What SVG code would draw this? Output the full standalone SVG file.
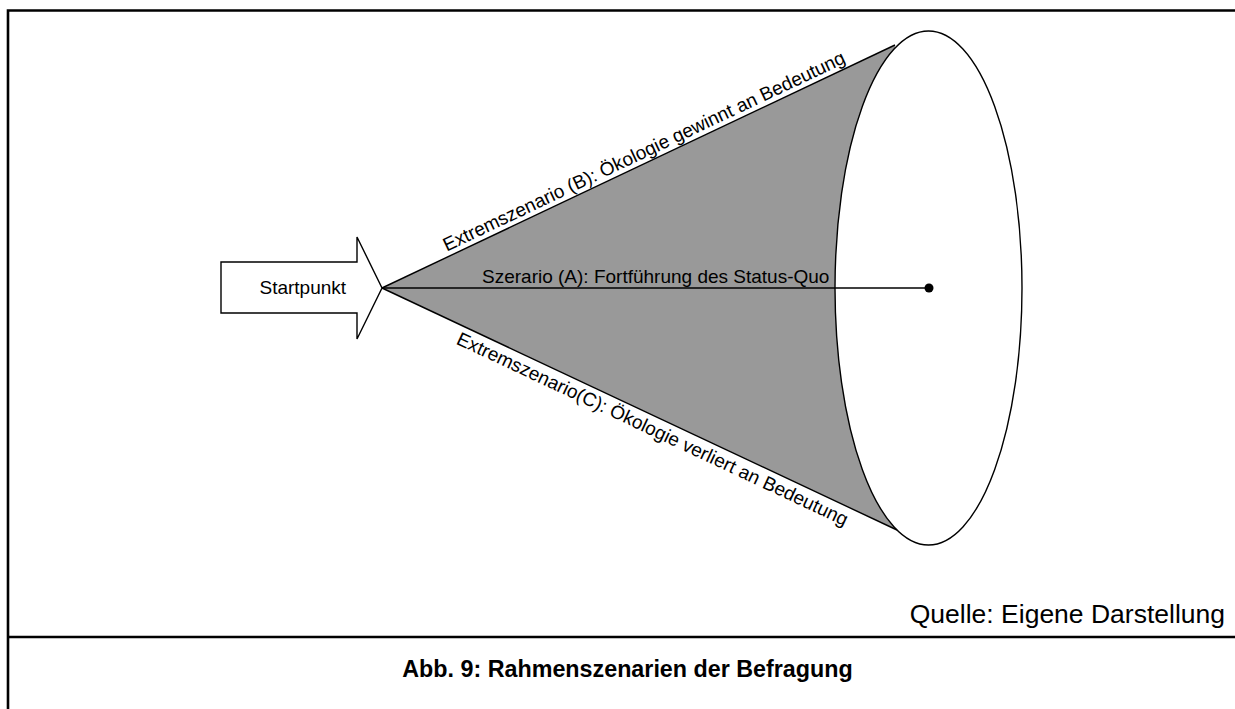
<svg xmlns="http://www.w3.org/2000/svg" width="1235" height="709" viewBox="0 0 1235 709">
<style>
.frame{stroke:#000;stroke-width:2.6;fill:none}
.ln{stroke:#000;stroke-width:1.4;fill:none}
.lbl{font-family:"Liberation Sans",Arial,sans-serif;font-size:19px;fill:#000}
</style>
<rect x="0" y="0" width="1235" height="709" fill="#fff"/>
<g id="frame">
<path class="frame" d="M8,709 V10.5 H1235"/>
<path class="frame" d="M8,637 H1235"/>
</g>
<g id="cone">
<polygon points="382,288 895,45 897,530" fill="#999"/>
<ellipse cx="928.5" cy="288" rx="93.5" ry="257" fill="#fff" stroke="#000" stroke-width="1.4"/>
</g>
<g id="connectors">
<line class="ln" x1="382" y1="288" x2="895" y2="45"/>
<line class="ln" x1="382" y1="288" x2="897" y2="530"/>
<line class="ln" x1="382" y1="288" x2="929" y2="288"/>
<circle cx="929" cy="288" r="4.5" fill="#000"/>
</g>
<g id="startpunkt">
<polygon points="221,262 357,262 357,237 382,288 357,339 357,313 221,313" fill="#fff" stroke="#000" stroke-width="1.4"/>
<text class="lbl" x="259.5" y="293.5">Startpunkt</text>
</g>
<g id="label-b">
<text class="lbl" transform="translate(382,288) rotate(-25.35)" x="74" y="-5">Extremszenario (B): Ökologie gewinnt an Bedeutung</text>
</g>
<g id="label-a">
<text class="lbl" x="482" y="283">Szerario (A): Fortführung des Status-Quo</text>
</g>
<g id="label-c">
<text class="lbl" transform="translate(382,288) rotate(25.17)" x="90" y="19">Extremszenario(C): Ökologie verliert an Bedeutung</text>
</g>
<text x="1225" y="623" text-anchor="end" font-family="Liberation Sans, Arial, sans-serif" font-size="26.5">Quelle: Eigene Darstellung</text>
<text x="627.5" y="677" text-anchor="middle" font-family="Liberation Sans, Arial, sans-serif" font-size="23.3" font-weight="bold">Abb. 9: Rahmenszenarien der Befragung</text>
</svg>
